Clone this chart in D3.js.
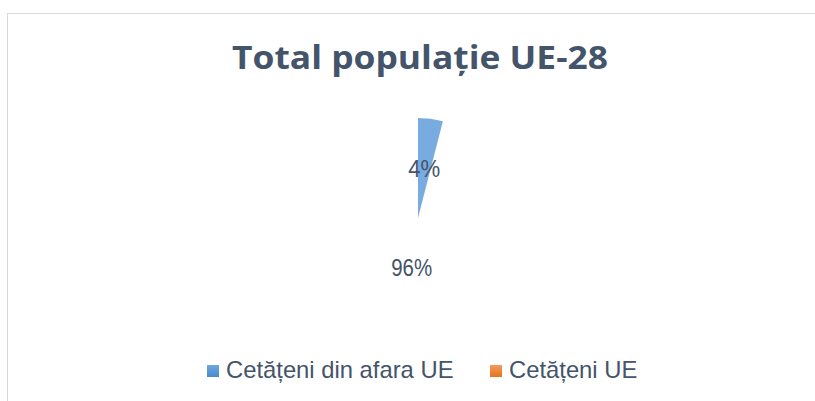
<!DOCTYPE html>
<html>
<head>
<meta charset="utf-8">
<script src="https://cdn.jsdelivr.net/npm/d3@7"></script>
<style>
html,body{margin:0;padding:0;background:#fff;}
svg{display:block;}
</style>
</head>
<body>
<svg id="chart" width="815" height="401"></svg>
<script>
const title = "Total populație UE-28";
const categories = ["Cetățeni din afara UE", "Cetățeni UE"];
const values = [4, 96];
const labels = ["4%", "96%"];

const svg = d3.select("#chart");

// chart border
svg.append("rect").attr("x", 7.5).attr("y", 13.5).attr("width", 830).attr("height", 420)
  .attr("fill", "#fff").attr("stroke", "#d9d9d9").attr("stroke-width", 1);

const defs = svg.append("defs");
const cx = 418, cy = 218, R = 100;
const gBlue = defs.append("linearGradient").attr("id", "gBlue")
  .attr("gradientUnits", "userSpaceOnUse").attr("x1", 0).attr("y1", cy - R).attr("x2", 0).attr("y2", cy + R);
gBlue.append("stop").attr("offset", "0%").attr("stop-color", "#78abdf");
gBlue.append("stop").attr("offset", "50%").attr("stop-color", "#4a8ad0");
gBlue.append("stop").attr("offset", "100%").attr("stop-color", "#3a7cc6");

const lgBlue = defs.append("linearGradient").attr("id", "lgBlue").attr("x1", 0).attr("y1", 0).attr("x2", 0).attr("y2", 1);
lgBlue.append("stop").attr("offset", "0%").attr("stop-color", "#6fa7dd");
lgBlue.append("stop").attr("offset", "100%").attr("stop-color", "#4889d0");
const lgOrange = defs.append("linearGradient").attr("id", "lgOrange").attr("x1", 0).attr("y1", 0).attr("x2", 0).attr("y2", 1);
lgOrange.append("stop").attr("offset", "0%").attr("stop-color", "#f39a5c");
lgOrange.append("stop").attr("offset", "100%").attr("stop-color", "#e6731f");

// title
svg.append("text").attr("x", 420).attr("y", 69).attr("text-anchor", "middle")
  .attr("font-family", "'Open Sans', sans-serif").attr("font-weight", "bold")
  .attr("font-size", 33).attr("fill", "#44546a")
  .attr("textLength", 376).attr("lengthAdjust", "spacingAndGlyphs")
  .text(title);

// pie
const pie = d3.pie().sort(null).value(d => d);
const arcs = pie(values);
const arc = d3.arc().innerRadius(0).outerRadius(R);
const g = svg.append("g").attr("transform", `translate(${cx},${cy})`);
const sliceFills = ["url(#gBlue)", "none"];
g.selectAll("path.slice").data(arcs).join("path").attr("class", "slice")
  .attr("d", arc).attr("fill", (d, i) => sliceFills[i]);

const labelWidths = [32, 41];
g.selectAll("text.lbl").data(arcs).join("text").attr("class", "lbl")
  .attr("x", d => arc.centroid(d)[0]).attr("y", d => arc.centroid(d)[1])
  .attr("dy", "0.36em").attr("text-anchor", "middle")
  .attr("font-family", "'Liberation Sans', Arial, sans-serif").attr("font-size", 23)
  .attr("textLength", (d, i) => labelWidths[i]).attr("lengthAdjust", "spacingAndGlyphs")
  .attr("fill", "#44546a")
  .text((d, i) => labels[i]);

// legend
const legX = [207, 490];
const lg = svg.append("g");
const legFills = ["url(#lgBlue)", "url(#lgOrange)"];
categories.forEach((c, i) => {
  lg.append("rect").attr("x", legX[i]).attr("y", 365).attr("width", 12).attr("height", 12)
    .attr("fill", legFills[i]);
  lg.append("text").attr("x", legX[i] + 19).attr("y", 378)
    .attr("font-family", "'Liberation Sans', Arial, sans-serif").attr("font-size", 23.8)
    .attr("fill", "#44546a").text(c);
});
</script>
</body>
</html>
